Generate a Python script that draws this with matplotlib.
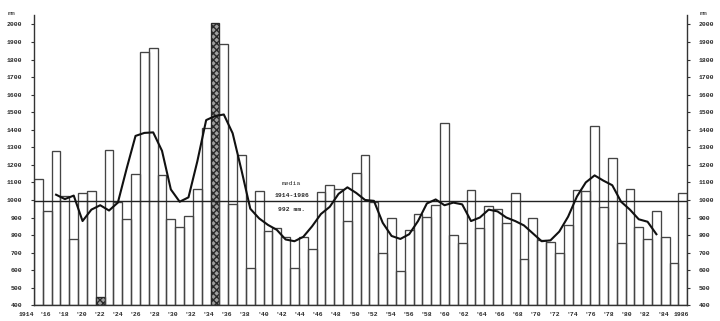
import matplotlib
matplotlib.use('Agg')
import matplotlib.pyplot as plt
import matplotlib.transforms as mtransforms

# ---- data ----
years = list(range(1914, 1988))
rain = [1120, 935, 1280, 1025, 780, 1040, 1050, 450, 1285, 990,
        890, 1150, 1845, 1865, 1145, 890, 845, 910, 1060, 1410,
        2010, 1890, 975, 1255, 615, 1050, 825, 840, 790, 615,
        790, 720, 1045, 1085, 1060, 878, 1155, 1255, 990, 700,
        900, 595, 830, 920, 905, 970, 1440, 800, 753, 1056,
        840, 968, 950, 870, 1037, 663, 895, 772, 762, 696,
        857, 1056, 1050, 1420, 961, 1240, 756, 1062, 847, 777,
        938, 787, 640, 1037]
trend_years = list(range(1916, 1985))
trend = [1030, 1005, 1025, 880, 945, 970, 940, 985, 1180, 1365,
         1382, 1385, 1280, 1060, 990, 1015, 1220, 1455, 1478, 1487,
         1380, 1170, 950, 895, 858, 830, 775, 765, 790, 850,
         920, 961, 1035, 1072, 1040, 1000, 995, 870, 795, 778,
         805, 880, 980, 1003, 970, 985, 975, 880, 900, 945,
         935, 900, 880, 855, 810, 765, 770, 820, 905, 1020,
         1100, 1140, 1110, 1084, 990, 945, 890, 876, 805]
extreme_years = [1921, 1934]
mean_value = 992
mean_text = ["media", "1914-1986", "992 mm."]
tick_years = list(range(1914, 1987, 2))
tick_labels = ["1914"] + ["'%02d" % (y % 100) for y in tick_years[1:-1]] + ["1986"]
yticks = list(range(400, 2001, 100))

FONT = 'Liberation Mono'
FS = 4.6
INK = '#2a2a2a'

fig = plt.figure(figsize=(7.2, 3.21), dpi=100)
ax = fig.add_axes([34 / 720, 15.7 / 321, (687.3 - 34) / 720, (305.3 - 15.3) / 321])
ax.set_xlim(1914, 1988)
ax.set_ylim(400, 2052)

base = 400
heights = [v - base for v in rain]
bars = ax.bar(years, heights, bottom=base, width=1.0, align='edge',
              facecolor='none', edgecolor='#444444', linewidth=0.95, zorder=2)
for b, y in zip(bars, years):
    if y in extreme_years:
        b.set_facecolor('#a0a0a0')
        b.set_hatch('xxxxx')
        b.set_edgecolor('#2a2a2a')

# trend curve at bar centers
ax.plot([y + 0.5 for y in trend_years], trend, color='#111111', lw=1.5, zorder=4,
        solid_joinstyle='round')

# mean line
ax.axhline(mean_value, color='#222222', lw=1.0, zorder=3)
mx = 1943.2
ax.text(mx, 1096, mean_text[0], fontsize=FS, family=FONT, color=INK, ha='center', va='center',
        zorder=5)
ax.text(mx, 1028, mean_text[1], fontsize=FS, family=FONT, color=INK, ha='center', va='center',
        fontweight='bold', zorder=5)
ax.text(mx, 948, mean_text[2], fontsize=FS, family=FONT, color=INK, ha='center', va='center',
        fontweight='bold', zorder=5)

# spines
ax.spines['top'].set_visible(False)
for s in ['left', 'right', 'bottom']:
    ax.spines[s].set_color('#333333')
    ax.spines[s].set_linewidth(1.0)

ax.set_yticks(yticks)
ax.tick_params(axis='y', which='both', left=True, right=True, labelleft=True, labelright=True,
               direction='out', length=2.5, width=0.8, color='#333333',
               labelsize=FS, labelcolor=INK, pad=6)
for lab in ax.get_yticklabels():
    lab.set_family(FONT)
    lab.set_fontweight('bold')
ax.set_xticks([])

# x labels, typed with slightly wider spacing than the bars
trans = mtransforms.blended_transform_factory(ax.transData, ax.transAxes)
for y, lab in zip(tick_years, tick_labels):
    xpos = 1914 - 0.83 + (y - 1914) * 1.0295
    ax.text(xpos, -0.033, lab, transform=trans, fontsize=FS, family=FONT, color=INK,
            ha='center', va='center', fontweight='bold', clip_on=False)

# unit labels
ax.text(-0.035, 1.006, 'mm', transform=ax.transAxes, fontsize=FS, family=FONT, color=INK,
        ha='center', va='center')
ax.text(1.025, 1.006, 'mm', transform=ax.transAxes, fontsize=FS, family=FONT, color=INK,
        ha='center', va='center')

fig.savefig('out.png', dpi=100)
